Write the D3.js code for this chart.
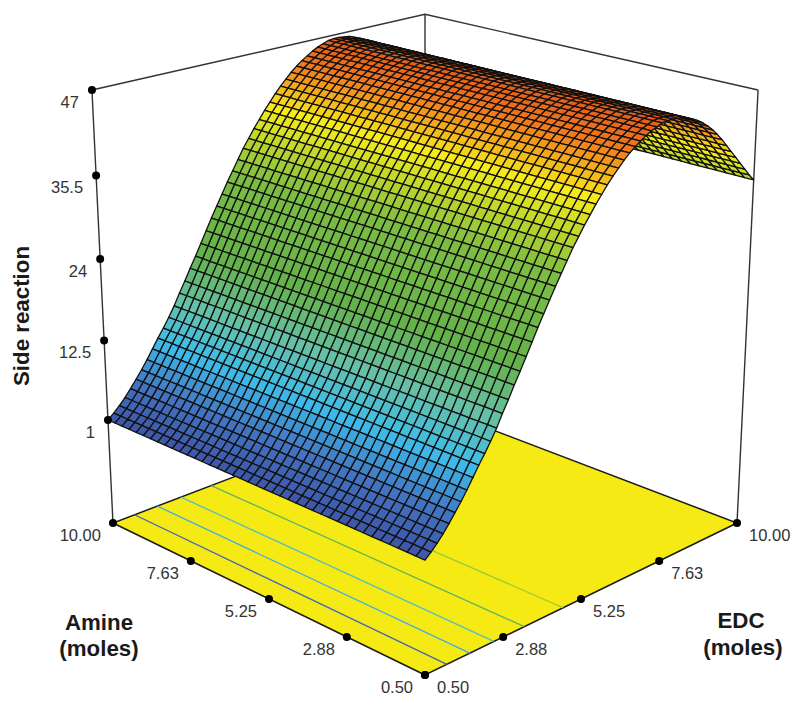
<!DOCTYPE html>
<html lang="en">

<head>
    <meta charset="UTF-8" />
    <title>Side reaction surface</title>
    <style>
        body { margin: 0; background: #fff; }
        text { font-family: "Liberation Sans", Arial, sans-serif; }
    </style>
</head>

<body>
    <div id="container"></div>
</body>
<script src="https://cdnjs.cloudflare.com/ajax/libs/d3/7.1.1/d3.min.js"></script>
<script>
    const amineTicks = [10.00, 7.63, 5.25, 2.88, 0.50];
    const edcTicks = [0.50, 2.88, 5.25, 7.63, 10.00];
    const zTicks = [1, 12.5, 24, 35.5, 47];

    // side reaction read along the EDC axis, one value per mesh row (0.50 -> 10.00)
    // the surface does not change along the amine axis
    const edcProfile = [
        1.0, 1.7, 2.5, 3.4, 4.4, 5.5, 6.6, 7.8, 9.1, 10.4,
        11.6, 12.9, 14.3, 15.9, 17.4, 19.0, 20.5, 22.1, 23.7, 25.3,
        26.8, 28.3, 29.8, 31.2, 32.6, 34.0, 35.2, 36.4, 37.5, 38.6,
        39.6, 40.6, 41.5, 42.3, 43.1, 43.8, 44.4, 44.9, 45.4, 45.8,
        46.1, 46.4, 46.5, 46.5, 46.4, 46.3, 46.0, 45.7, 45.3, 44.8,
        44.2, 43.5, 42.7, 41.8, 40.8, 39.8, 38.8, 37.8, 36.8, 35.8, 34.9
    ];
    const amineSteps = 40;

    // contours on the floor
    const contourEdc = [1.09, 1.72, 2.39, 3.26, 4.40];
    const contourLevels = [3.5, 9, 13, 20, 33];

    const colorLevels = [1, 5, 10, 15, 21, 31, 39, 44, 47];
    const colorStops = ["#3f57a8", "#4272c0", "#3dbcea", "#66c0a8", "#63b24a", "#7cbd42", "#f7ec18", "#f27a1e", "#e25a18"];

    const width = 800, height = 705;

    const amineScale = d3.scaleLinear().domain([0.5, 10]).range([0, 1]);
    const edcScale = d3.scaleLinear().domain([0.5, 10]).range([0, 1]);
    // the floor is at 0, the value 1 sits a quarter of the way up the box
    const zScale = d3.scaleLinear().domain([1, 47]).range([0.25, 1]);
    const color = d3.scaleLinear().domain(colorLevels).range(colorStops).interpolate(d3.interpolateRgb);

    // perspective camera, fitted on the corners of the box
    function project(amine, edc, z) {
        let t = amineScale(amine), e = edcScale(edc),
            w = z === null ? 0 : zScale(z),
            a = e - t, b = e + t,
            d = 1 + 0.14 * b - 0.072 * w;
        return [425 + 355.7 * a / d, (675 - 78.8 * b - 500.1 * w) / d];
    }
    const line = d3.line();

    let svg = d3.select("#container").append('svg').attr('width', width).attr('height', height)
        .style('display', 'block')

    // back edges of the box
    let frame = svg.append('g').attr('fill', 'none').attr('stroke', '#333').attr('stroke-width', 1.4)
    frame.append('path').attr('d', line([project(10, 0.5, 47), project(10, 10, 47), project(0.5, 10, 47)]))
    frame.append('path').attr('d', line([project(10, 0.5, null), project(10, 0.5, 47)]))
    frame.append('path').attr('d', line([project(10, 10, null), project(10, 10, 47)]))
    frame.append('path').attr('d', line([project(0.5, 10, null), project(0.5, 10, 47)]))

    // floor
    svg.append('path')
        .attr('d', line([project(0.5, 0.5, null), project(10, 0.5, null), project(10, 10, null), project(0.5, 10, null)]) + 'Z')
        .attr('fill', '#f5ea14')
        .attr('stroke', '#1a1a1a')
        .attr('stroke-width', 1.5)

    svg.append('g').selectAll('path').data(contourEdc).enter().append('path')
        .attr('d', (d) => line([project(0.5, d, null), project(10, d, null)]))
        .attr('stroke', (d, i) => color(contourLevels[i]))
        .attr('stroke-width', 1.3)
        .attr('fill', 'none')

    // mesh cells, far rows first so the near ones paint over them
    let edcAt = d3.scaleLinear().domain([0, edcProfile.length - 1]).range([0.5, 10]);
    let amineAt = d3.scaleLinear().domain([0, amineSteps]).range([0.5, 10]);
    let cells = [];
    d3.range(edcProfile.length - 2, -1, -1).forEach(function (r) {
        d3.range(amineSteps).forEach(function (c) {
            cells.push({ r: r, c: c });
        });
    });
    svg.append('g').selectAll('path').data(cells).enter().append('path')
        .attr('d', function (d) {
            let z0 = edcProfile[d.r], z1 = edcProfile[d.r + 1];
            return line([
                project(amineAt(d.c), edcAt(d.r), z0),
                project(amineAt(d.c + 1), edcAt(d.r), z0),
                project(amineAt(d.c + 1), edcAt(d.r + 1), z1),
                project(amineAt(d.c), edcAt(d.r + 1), z1)
            ]) + 'Z';
        })
        .attr('fill', (d) => color((edcProfile[d.r] + edcProfile[d.r + 1]) / 2))
        .attr('stroke', '#111')
        .attr('stroke-width', 1.3)
        .attr('stroke-linejoin', 'round')

    // dots and tick labels, the dots on the floor are evenly spaced along the edges
    let front = project(0.5, 0.5, null),
        amineEdge = d3.interpolate(project(10, 0.5, null), front),
        edcEdge = d3.interpolate(front, project(0.5, 10, null));
    let ticks = [];
    // slice: d3.interpolate hands back the same array on every call
    amineTicks.forEach((d) => ticks.push({ p: amineEdge(1 - amineScale(d)).slice(), label: d.toFixed(2), dx: -12, anchor: 'end' }));
    edcTicks.forEach((d) => ticks.push({ p: edcEdge(edcScale(d)).slice(), label: d.toFixed(2), dx: 12, anchor: 'start' }));
    zTicks.forEach((d) => ticks.push({ p: project(10, 0.5, d), label: String(d), dx: -13, anchor: 'end' }));

    let tick = svg.append('g').selectAll('g').data(ticks).enter().append('g')
        .attr('transform', (d) => `translate(${d.p[0]}, ${d.p[1]})`)
    tick.append('circle').attr('r', 4).attr('fill', '#000')
    tick.append('text').text((d) => d.label)
        .attr('x', (d) => d.dx)
        .attr('y', 12)
        .attr('dy', '.36em')
        .attr('text-anchor', (d) => d.anchor)
        .attr('font-size', 16.5)
        .attr('fill', '#333')

    // axis titles
    let title = svg.append('g').attr('font-size', 22.3).attr('font-weight', 'bold')
        .attr('fill', '#1a1a1a').attr('text-anchor', 'middle')
    title.append('text').text('Side reaction').attr('transform', 'translate(29, 316) rotate(-90)')
    title.append('text').text('Amine').attr('x', 99).attr('y', 630)
    title.append('text').text('(moles)').attr('x', 99).attr('y', 656)
    title.append('text').text('EDC').attr('x', 741).attr('y', 628)
    title.append('text').text('(moles)').attr('x', 743).attr('y', 655)
</script>

</html>
